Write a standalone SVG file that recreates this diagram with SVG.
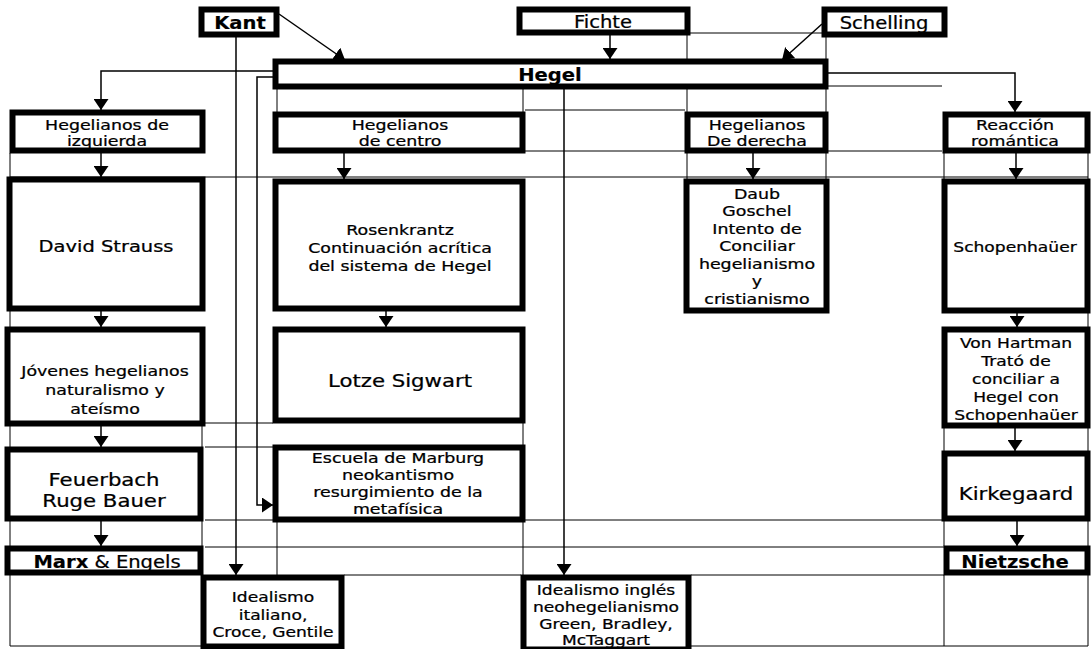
<svg xmlns="http://www.w3.org/2000/svg" width="1091" height="649" viewBox="0 0 1091 649">
<style>
.box{fill:#fff;stroke:#000;stroke-width:6}
.grid{stroke:#000;stroke-width:1;fill:none}
.conn{stroke:#000;stroke-width:1.5;fill:none}
.t{font-family:"DejaVu Sans",Verdana,sans-serif;font-size:14.5px;text-anchor:middle;fill:#000;stroke:#000;stroke-width:0.25}
.l{font-size:18px}
.m{font-size:16.5px}
.b{font-weight:bold;font-size:17px;stroke-width:0.15}
.r{font-size:17px}
</style>
<defs>
<marker id="ah" markerUnits="userSpaceOnUse" markerWidth="11" markerHeight="15" refX="11" refY="7.5" orient="auto">
<path d="M0,0 L11,7.5 L0,15 z" fill="#000"/>
</marker>
</defs>
<rect width="1091" height="649" fill="#fff"/>
<g id="grid" class="grid">
<path d="M690,33H822 M828,86H942 M525,110H685 M525,151H685 M828,151H942 M10,177H1088 M205,423H273 M205,447H273 M205,520H944 M205,547H944 M344,575H521 M691,575H944 M10,646H201 M691,646H1088"/>
<path d="M10,153V646 M202,426V447 M202,521V546 M277,89V112 M277,522V575 M523,89V112 M523,423V445 M523,522V575 M687,35V112 M687,153V179 M826,37V59 M826,89V112 M826,153V179 M944,153V179 M944,428V451 M944,521V546 M944,575V646 M1088,153V179 M1088,313V327 M1088,428V451 M1088,521V546 M1088,575V646"/>
</g>
<g id="connectors" class="conn">
<path d="M279,14 L345,60" marker-end="url(#ah)"/>
<path d="M822,24 L782,60" marker-end="url(#ah)"/>
<path d="M610,35 V59" marker-end="url(#ah)"/>
<path d="M273,71 H101 V110" marker-end="url(#ah)"/>
<path d="M828,73 H1015 V112" marker-end="url(#ah)"/>
<path d="M273,77 H257 V505 H273" marker-end="url(#ah)"/>
<path d="M564,89 V575" marker-end="url(#ah)"/>
<path d="M236,37 V575" marker-end="url(#ah)"/>
<path d="M101,153 V177" marker-end="url(#ah)"/>
<path d="M101,311 V327" marker-end="url(#ah)"/>
<path d="M101,426 V447" marker-end="url(#ah)"/>
<path d="M101,521 V546" marker-end="url(#ah)"/>
<path d="M344,153 V179" marker-end="url(#ah)"/>
<path d="M386,311 V327" marker-end="url(#ah)"/>
<path d="M753,153 V179" marker-end="url(#ah)"/>
<path d="M1016,153 V179" marker-end="url(#ah)"/>
<path d="M1017,313 V327" marker-end="url(#ah)"/>
<path d="M1015,428 V451" marker-end="url(#ah)"/>
<path d="M1017,521 V546" marker-end="url(#ah)"/>
</g>
<g id="kant"><rect class="box" x="201.5" y="9.5" width="75" height="25"/><text class="t b" transform="matrix(1.15 0 0 1 240 0)"><tspan x="0" y="29">Kant</tspan></text></g>
<g id="fichte"><rect class="box" x="519.5" y="9.5" width="168" height="23"/><text class="t r" transform="matrix(1.15 0 0 1 603 0)"><tspan x="0" y="28">Fichte</tspan></text></g>
<g id="schelling"><rect class="box" x="824.5" y="9.5" width="120" height="25"/><text class="t r" transform="matrix(1.15 0 0 1 884 0)"><tspan x="0" y="29">Schelling</tspan></text></g>
<g id="hegel"><rect class="box" x="275.5" y="61.5" width="550" height="25"/><text class="t b" transform="matrix(1.15 0 0 1 550 0)"><tspan x="0" y="81">Hegel</tspan></text></g>
<g id="izquierda"><rect class="box" x="12.5" y="112.5" width="190" height="38"/><text class="t" transform="matrix(1.2 0 0 1 107 0)"><tspan x="0" y="130">Hegelianos de</tspan><tspan x="0" y="146">izquierda</tspan></text></g>
<g id="centro"><rect class="box" x="275.5" y="114.5" width="247" height="36"/><text class="t" transform="matrix(1.2 0 0 1 400 0)"><tspan x="0" y="130">Hegelianos</tspan><tspan x="0" y="146.5">de centro</tspan></text></g>
<g id="derecha"><rect class="box" x="687.5" y="114.5" width="138" height="36"/><text class="t" transform="matrix(1.2 0 0 1 757 0)"><tspan x="0" y="130">Hegelianos</tspan><tspan x="0" y="146.5">De derecha</tspan></text></g>
<g id="reaccion"><rect class="box" x="945.5" y="114.5" width="142" height="36"/><text class="t" transform="matrix(1.2 0 0 1 1015 0)"><tspan x="0" y="130">Reacción</tspan><tspan x="0" y="146.5">romántica</tspan></text></g>
<g id="strauss"><rect class="box" x="9.5" y="179.5" width="193" height="129"/><text class="t m" transform="matrix(1.18 0 0 1 106 0)"><tspan x="0" y="252">David Strauss</tspan></text></g>
<g id="rosenkrantz"><rect class="box" x="275.5" y="181.5" width="247" height="127"/><text class="t" transform="matrix(1.2 0 0 1 400 0)"><tspan x="0" y="235">Rosenkrantz</tspan><tspan x="0" y="253">Continuación acrítica</tspan><tspan x="0" y="271">del sistema de Hegel</tspan></text></g>
<g id="daub"><rect class="box" x="686.5" y="181.5" width="140" height="129"/><text class="t" transform="matrix(1.2 0 0 1 757 0)"><tspan x="0" y="199">Daub</tspan><tspan x="0" y="216.5">Goschel</tspan><tspan x="0" y="234">Intento de</tspan><tspan x="0" y="251.5">Conciliar</tspan><tspan x="0" y="269">hegelianismo</tspan><tspan x="0" y="286.5">y</tspan><tspan x="0" y="304">cristianismo</tspan></text></g>
<g id="schopenhauer"><rect class="box" x="944.5" y="181.5" width="143" height="129"/><text class="t" transform="matrix(1.18 0 0 1 1015 0)"><tspan x="0" y="252">Schopenhaüer</tspan></text></g>
<g id="jovenes"><rect class="box" x="7.5" y="329.5" width="195" height="94"/><text class="t" transform="matrix(1.2 0 0 1 105 0)"><tspan x="0" y="376">Jóvenes hegelianos</tspan><tspan x="0" y="395">naturalismo y</tspan><tspan x="0" y="414">ateísmo</tspan></text></g>
<g id="lotze"><rect class="box" x="275.5" y="329.5" width="247" height="91"/><text class="t l" transform="matrix(1.18 0 0 1 400 0)"><tspan x="0" y="387">Lotze Sigwart</tspan></text></g>
<g id="vonhartman"><rect class="box" x="944.5" y="329.5" width="143" height="96"/><text class="t" transform="matrix(1.18 0 0 1 1016 0)"><tspan x="0" y="348">Von Hartman</tspan><tspan x="0" y="366">Trató de</tspan><tspan x="0" y="384">conciliar a</tspan><tspan x="0" y="402">Hegel con</tspan><tspan x="0" y="420">Schopenhaüer</tspan></text></g>
<g id="feuerbach"><rect class="box" x="7.5" y="449.5" width="193" height="69"/><text class="t l" transform="matrix(1.18 0 0 1 104 0)"><tspan x="0" y="486">Feuerbach</tspan><tspan x="0" y="507">Ruge Bauer</tspan></text></g>
<g id="marburg"><rect class="box" x="275.5" y="447.5" width="247" height="72"/><text class="t" transform="matrix(1.2 0 0 1 398 0)"><tspan x="0" y="463">Escuela de Marburg</tspan><tspan x="0" y="480">neokantismo</tspan><tspan x="0" y="497">resurgimiento de la</tspan><tspan x="0" y="514">metafísica</tspan></text></g>
<g id="kirkegaard"><rect class="box" x="944.5" y="453.5" width="143" height="65"/><text class="t l" transform="matrix(1.18 0 0 1 1016 0)"><tspan x="0" y="500">Kirkegaard</tspan></text></g>
<g id="marx"><rect class="box" x="7.5" y="548.5" width="193" height="24"/><text class="t r" transform="matrix(1.15 0 0 1 107 0)"><tspan x="0" y="568"><tspan font-weight="bold" stroke-width="0.15">Marx</tspan> &amp; Engels</tspan></text></g>
<g id="nietzsche"><rect class="box" x="946.5" y="548.5" width="141" height="24"/><text class="t b" transform="matrix(1.15 0 0 1 1015 0)"><tspan x="0" y="568">Nietzsche</tspan></text></g>
<g id="italiano"><rect class="box" x="203.5" y="577.5" width="138" height="69"/><text class="t" transform="matrix(1.18 0 0 1 273 0)"><tspan x="0" y="602">Idealismo</tspan><tspan x="0" y="620">italiano,</tspan><tspan x="0" y="637">Croce, Gentile</tspan></text></g>
<g id="ingles"><rect class="box" x="523.5" y="577.5" width="165" height="72"/><text class="t" transform="matrix(1.18 0 0 1 606 0)"><tspan x="0" y="595">Idealismo inglés</tspan><tspan x="0" y="612">neohegelianismo</tspan><tspan x="0" y="629">Green, Bradley,</tspan><tspan x="0" y="645">McTaggart</tspan></text></g>
</svg>
